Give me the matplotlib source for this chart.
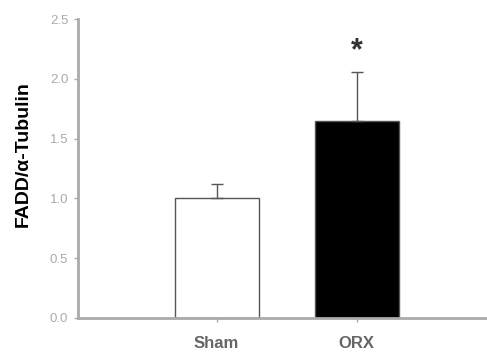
import matplotlib
matplotlib.use("Agg")
import matplotlib.pyplot as plt

groups = ["Sham", "ORX"]
means = [1.0, 1.65]
sem = [0.12, 0.41]
bar_colors = ["white", "black"]

plt.rcParams['font.family'] = ['Liberation Sans', 'DejaVu Sans']

fig = plt.figure(figsize=[4.87, 3.54], dpi=100)
ax = fig.add_axes([0.16, 0.102, 0.84, 0.844])

x = [0, 1]
ax.bar(x, means, width=0.6, color=bar_colors, edgecolor="#555555", linewidth=1.0, zorder=2)
ax.errorbar(x, means, yerr=[[0, 0], sem], fmt="none", ecolor="#555555",
            elinewidth=1.0, capsize=4, capthick=1.0, zorder=3)
ax.text(1, means[1] + sem[1] + 0.17, "*", ha="center", va="center",
        fontsize=22, fontweight="bold", color="#333333")

ax.set_xlim(-0.99, 1.93)
ax.set_ylim(0, 2.5)
ax.set_yticks([0.0, 0.5, 1.0, 1.5, 2.0, 2.5])
ax.set_yticklabels(["0.0", "0.5", "1.0", "1.5", "2.0", "2.5"])
ax.set_xticks(x)
ax.set_xticklabels(groups, fontsize=12, fontweight="bold", color="#666666")
ax.tick_params(axis="y", labelsize=9.5, colors="#aaaaaa", length=3, width=1, pad=4)
ax.tick_params(axis="x", length=3, width=1, colors="#aaaaaa", labelcolor="#666666", pad=10)
ax.set_ylabel("FADD/\u03b1-Tubulin", fontsize=14, fontweight="bold")
ax.yaxis.set_label_coords(-0.112, 0.55)

for s in ["top", "right"]:
    ax.spines[s].set_visible(False)
for s in ["left", "bottom"]:
    ax.spines[s].set_color("#aaaaaa")
    ax.spines[s].set_linewidth(2)

plt.savefig("out.png", dpi=100)
